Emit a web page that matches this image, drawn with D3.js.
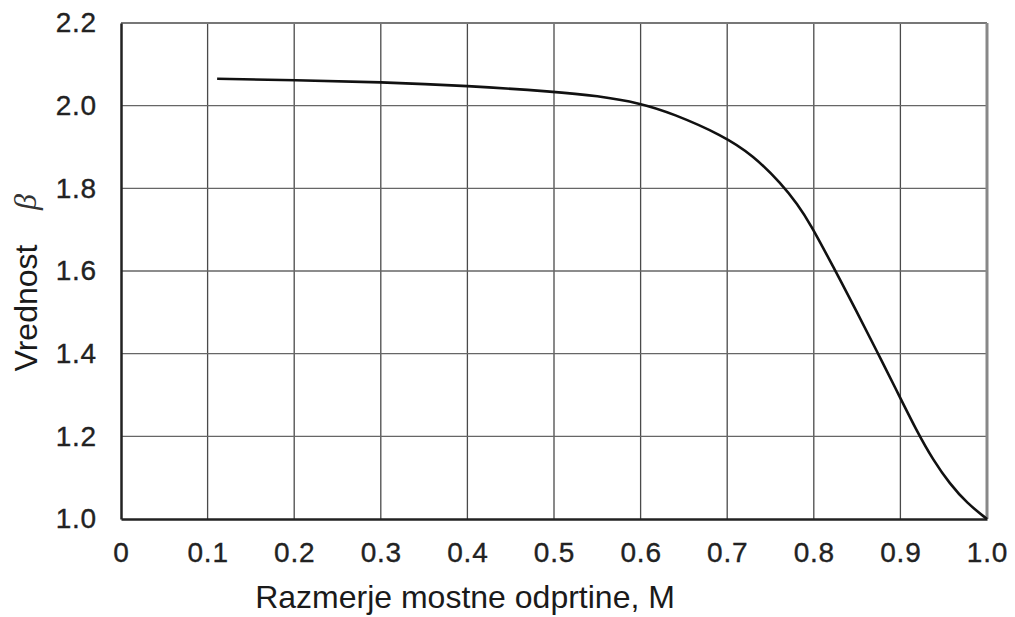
<!DOCTYPE html>
<html lang="sl">
<head>
<meta charset="UTF-8">
<title>Vrednost beta</title>
<script src="https://cdn.jsdelivr.net/npm/d3@7"></script>
<style>
    body { margin: 0; background: #fff; }
    .tick text { font-family: "Liberation Sans", Arial, sans-serif; font-size: 28px; fill: #222; letter-spacing: 0.8px;
                 stroke: #222; stroke-width: 0.35px; }
    .title { font-family: "Liberation Sans", Arial, sans-serif; font-size: 32px; fill: #1a1a1a; }
</style>
</head>
<body>
<svg width="1015" height="617"></svg>
<script>
    // values
    const ratioM = [0.111, 0.2, 0.3, 0.4, 0.5, 0.55, 0.6, 0.637, 0.694, 0.73, 0.763, 0.781, 0.796, 0.822, 0.85, 0.873, 0.893, 0.919, 0.938, 0.957, 0.977, 1.0];
    const beta   = [2.065, 2.062, 2.057, 2.048, 2.034, 2.024, 2.006, 1.981, 1.929, 1.880, 1.810, 1.762, 1.714, 1.612, 1.500, 1.405, 1.322, 1.212, 1.142, 1.085, 1.038, 1.0];
    const xTicks = [0, 0.1, 0.2, 0.3, 0.4, 0.5, 0.6, 0.7, 0.8, 0.9, 1.0];
    const xTickLabels = ["0", "0.1", "0.2", "0.3", "0.4", "0.5", "0.6", "0.7", "0.8", "0.9", "1.0"];
    const yTicks = [1.0, 1.2, 1.4, 1.6, 1.8, 2.0, 2.2];
    const yTickLabels = ["1.0", "1.2", "1.4", "1.6", "1.8", "2.0", "2.2"];

    const svg = d3.select("svg");
    const mLeft = 121, mRight = 987, mTop = 23, mBottom = 519;

    const x = d3.scaleLinear().domain([0, 1]).range([mLeft, mRight]);
    const y = d3.scaleLinear().domain([1, 2.2]).range([mBottom, mTop]);

    // grid
    const grid = svg.append("g");
    grid.selectAll("line.v")
        .data(xTicks.slice(1, -1))
        .enter().append("line")
        .attr("x1", d => x(d)).attr("x2", d => x(d))
        .attr("y1", mTop).attr("y2", mBottom)
        .attr("stroke", "#4a4a4a").attr("stroke-width", 1.3);
    grid.selectAll("line.h")
        .data(yTicks.slice(1, -1))
        .enter().append("line")
        .attr("x1", mLeft).attr("x2", mRight)
        .attr("y1", d => y(d)).attr("y2", d => y(d))
        .attr("stroke", "#666").attr("stroke-width", 1.3);

    // frame
    svg.append("line").attr("x1", mLeft).attr("x2", mRight).attr("y1", mTop).attr("y2", mTop)
        .attr("stroke", "#777").attr("stroke-width", 2);
    svg.append("line").attr("x1", mRight).attr("x2", mRight).attr("y1", mTop).attr("y2", mBottom)
        .attr("stroke", "#888").attr("stroke-width", 3);

    // axes
    const xAxis = d3.axisBottom(x).tickValues(xTicks)
        .tickFormat((d, i) => xTickLabels[i]).tickSize(0).tickPadding(23);
    const gx = svg.append("g").attr("transform", `translate(0,${mBottom})`).call(xAxis);
    gx.select(".domain").attr("stroke", "#222").attr("stroke-width", 2.5);

    const yAxis = d3.axisLeft(y).tickValues(yTicks)
        .tickFormat((d, i) => yTickLabels[i]).tickSize(0).tickPadding(24);
    const gy = svg.append("g").attr("transform", `translate(${mLeft},0)`).call(yAxis);
    gy.select(".domain").attr("stroke", "#222").attr("stroke-width", 2.5);

    // curve
    const pts = ratioM.map((m, i) => [m, beta[i]]);
    svg.append("path")
        .datum(pts)
        .attr("fill", "none")
        .attr("stroke", "#111")
        .attr("stroke-width", 2.6)
        .attr("d", d3.line().x(d => x(d[0])).y(d => y(d[1])).curve(d3.curveBasis));

    // titles
    svg.append("text").attr("class", "title")
        .attr("x", 465).attr("y", 608)
        .attr("text-anchor", "middle")
        .text("Razmerje mostne odprtine, M");

    svg.append("text").attr("class", "title")
        .attr("transform", "translate(37,308) rotate(-90)")
        .attr("text-anchor", "middle")
        .text("Vrednost");
    svg.append("text")
        .attr("transform", "translate(36,202) rotate(-90)")
        .attr("text-anchor", "middle")
        .style("font-family", "'Liberation Serif', serif")
        .style("font-style", "italic")
        .style("font-size", "32px")
        .style("fill", "#333")
        .text("β");
</script>
</body>
</html>
